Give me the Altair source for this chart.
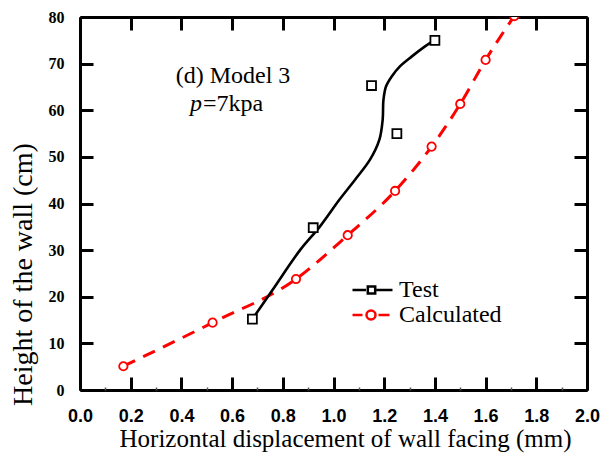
import altair as alt
import pandas as pd

# ---- data -------------------------------------------------------------
# Measured facing displacement (Test)
test_x = [0.68, 0.92, 1.25, 1.15, 1.40]
test_y = [15.2, 34.8, 55.0, 65.3, 75.0]

# Smoothed trend drawn through the test measurements
trend_x = [0.68, 0.76, 0.868, 0.947, 1.023, 1.085, 1.144, 1.181, 1.194,
           1.197, 1.207, 1.229, 1.262, 1.308, 1.361, 1.40]
trend_y = [15.2, 21.5, 30.0, 35.1, 40.8, 45.1, 49.4, 53.7, 58.0,
           62.2, 65.1, 67.2, 69.4, 71.5, 73.7, 75.1]

# Model prediction (Calculated)
calc_x = [0.171, 0.523, 0.852, 1.056, 1.243, 1.387, 1.500, 1.600, 1.713]
calc_y = [5.1, 14.45, 23.8, 33.2, 42.7, 52.2, 61.35, 70.8, 80.2]

series_names = ["Test", "Calculated"]
series_colors = ["black", "red"]

x_ticks = [0.0, 0.2, 0.4, 0.6, 0.8, 1.0, 1.2, 1.4, 1.6, 1.8, 2.0]
x_minor = [0.1, 0.3, 0.5, 0.7, 0.9, 1.1, 1.3, 1.5, 1.7, 1.9]
y_ticks = [0, 10, 20, 30, 40, 50, 60, 70, 80]

title_line = ["(d) Model 3"]
load_symbol = ["p"]
load_value = ["=7kpa"]

W, H = 507, 373
SERIF = "Liberation Serif"
SANS = "Liberation Sans"

test_df = pd.DataFrame({"x": test_x, "y": test_y})
trend_df = pd.DataFrame({"x": trend_x, "y": trend_y, "i": range(len(trend_x))})
calc_df = pd.DataFrame({"x": calc_x, "y": calc_y})
legend_df = pd.DataFrame({
    "x": [test_x[0], calc_x[0]],
    "y": [test_y[0], calc_y[0]],
    "series": series_names,
})

xs = alt.Scale(domain=[0, 2], nice=False, zero=False)
ys = alt.Scale(domain=[0, 80], nice=False, zero=False)

# ---- axes ------------------------------------------------------------
# labelled bottom / left axes (no ticks; inward ticks come from mirrored axes)
main_x_axis = alt.Axis(
    orient="bottom", values=x_ticks, format=".1f", grid=False,
    ticks=False, tickSize=0, labelFlush=False, labelOverlap=False,
    labelFont=SANS, labelFontWeight="bold", labelFontSize=18, labelColor="black",
    labelPadding=17, domainColor="black", domainWidth=3,
    title="Horizontal displacement of wall facing (mm)",
    titleFont=SERIF, titleFontSize=25, titleFontWeight="normal", titleColor="#000000",
    titleX=265, titleY=48, titleBaseline="middle",
)
main_y_axis = alt.Axis(
    orient="left", values=y_ticks, format="d", grid=False,
    ticks=False, tickSize=0, labelFlush=False, labelOverlap=False,
    labelFont=SERIF, labelFontWeight="bold", labelFontSize=16, labelColor="black",
    labelPadding=16, domainColor="black", domainWidth=3,
    title="Height of the wall (cm)",
    titleFont=SERIF, titleFontSize=28, titleFontWeight="normal", titleColor="#000000",
    titleX=-57, titleY=257, titleBaseline="middle",
)


def tick_axis(orient, values, offset, domain, size=13, width=3, color="black"):
    return alt.Axis(
        orient=orient, values=values, offset=offset, grid=False,
        labels=False, title=None, domain=domain, domainColor="black", domainWidth=3,
        ticks=True, tickSize=size, tickWidth=width, tickColor=color,
    )


# ---- layers ----------------------------------------------------------
calc_line = alt.Chart(calc_df).mark_line(
    color="red", strokeWidth=3, strokeDash=[13, 9], interpolate="monotone", clip=True
).encode(
    x=alt.X("x:Q", scale=xs, axis=main_x_axis),
    y=alt.Y("y:Q", scale=ys, axis=main_y_axis),
)

calc_pts = alt.Chart(calc_df).mark_point(
    shape="circle", size=70, color="red", fill="white", filled=True,
    stroke="red", strokeWidth=1.8, opacity=1, clip=True
).encode(
    x=alt.X("x:Q", scale=xs, axis=tick_axis("top", x_ticks, -H, False)),
    y=alt.Y("y:Q", scale=ys, axis=tick_axis("right", y_ticks, -W, False)),
)

trend_line = alt.Chart(trend_df).mark_line(
    color="black", strokeWidth=2.6, interpolate="catmull-rom"
).encode(
    x=alt.X("x:Q", scale=xs, axis=tick_axis("bottom", x_ticks, -H, True)),
    y=alt.Y("y:Q", scale=ys, axis=tick_axis("left", y_ticks, -W, True)),
    order="i:Q",
)

test_pts = alt.Chart(test_df).mark_point(
    shape="square", size=80, fill="white", filled=True,
    stroke="black", strokeWidth=1.8, opacity=1
).encode(
    x=alt.X("x:Q", scale=xs, axis=tick_axis("top", x_minor, -H, False, size=3, width=1.5, color="#555")),
    y=alt.Y("y:Q", scale=ys, axis=None),
)

# legend symbols: short line segments either side of the marker
# (path units are 10 px at symbolSize 400, so the drawing spans ~40 px)
sym_test = "M-1.95,0H-0.6M0.45,0H2.05M-0.42,-0.36H0.32V0.36H-0.42Z"
sym_calc = ("M-1.95,0H-0.95M0.65,0H1.75"
            "M0.35,0A0.45,0.45,0,1,1,-0.55,0A0.45,0.45,0,1,1,0.35,0Z")

legend_style = dict(
    title=None, orient="none", legendX=280, legendY=261,
    symbolSize=400, symbolStrokeWidth=2.5, symbolOpacity=1,
    symbolFillColor="white",
    labelFont=SERIF, labelFontSize=24, labelColor="black",
    labelOffset=15, padding=0, rowPadding=1,
)

legend_layer = alt.Chart(legend_df).mark_point(opacity=0, filled=False).encode(
    x=alt.X("x:Q", scale=xs, axis=None),
    y=alt.Y("y:Q", scale=ys, axis=None),
    color=alt.Color(
        "series:N",
        scale=alt.Scale(domain=series_names, range=series_colors),
        legend=alt.Legend(**legend_style),
    ),
    shape=alt.Shape(
        "series:N",
        scale=alt.Scale(domain=series_names, range=[sym_test, sym_calc]),
        legend=alt.Legend(**legend_style),
    ),
)

note1 = alt.Chart(pd.DataFrame({"t": title_line})).mark_text(
    font=SERIF, fontSize=24, color="black", align="center", baseline="middle"
).encode(x=alt.value(153), y=alt.value(59), text="t:N")

note2 = alt.Chart(pd.DataFrame({"t": load_symbol})).mark_text(
    font=SERIF, fontSize=24, fontStyle="italic", color="black", align="left", baseline="middle"
).encode(x=alt.value(110), y=alt.value(87), text="t:N")

note3 = alt.Chart(pd.DataFrame({"t": load_value})).mark_text(
    font=SERIF, fontSize=24, color="black", align="left", baseline="middle"
).encode(x=alt.value(123), y=alt.value(87), text="t:N")

chart = alt.layer(
    calc_line, calc_pts, trend_line, test_pts, legend_layer, note1, note2, note3
).resolve_axis(
    x="independent", y="independent"
).properties(
    width=W, height=H,
    autosize=alt.AutoSizeParams(type="none"),
    padding={"left": 80, "top": 17, "right": 19, "bottom": 68},
).configure_view(
    stroke=None
).configure(
    background="white"
)

chart.save("out.html", embed_options={"renderer": "svg", "actions": False})
